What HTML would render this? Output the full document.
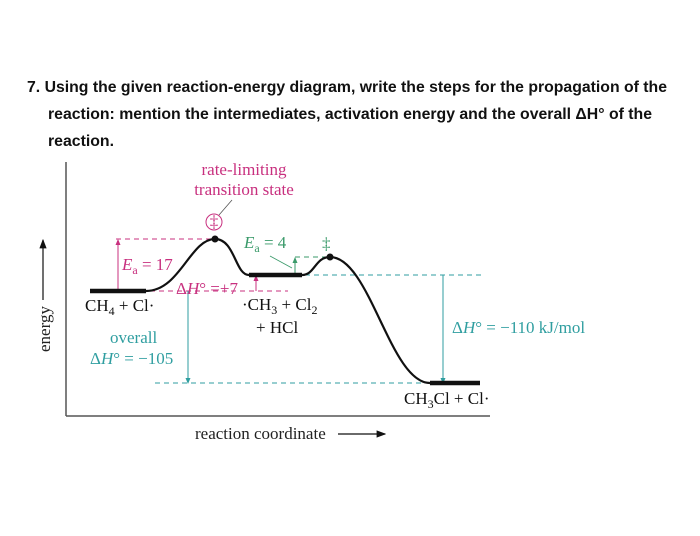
<!DOCTYPE html>
<html><head><meta charset="utf-8"><style>
html,body{margin:0;padding:0;background:#fff;}
svg{display:block;}
.q{font-family:"Liberation Sans",sans-serif;font-weight:bold;font-size:16px;fill:#111;}
.s{font-family:"Liberation Serif",serif;font-size:17px;}
</style></head><body>
<svg id="chart" width="700" height="536" viewBox="0 0 700 536" xmlns="http://www.w3.org/2000/svg">
<defs>
<marker id="ak" markerWidth="8" markerHeight="8" refX="7" refY="4" orient="auto"><path d="M0,1 L8,4 L0,7 Z" fill="#111"/></marker>
<marker id="am" markerWidth="6" markerHeight="6" refX="5" refY="3" orient="auto"><path d="M0,0.5 L6,3 L0,5.5 Z" fill="#c8307f"/></marker>
<marker id="at" markerWidth="6" markerHeight="6" refX="5" refY="3" orient="auto"><path d="M0,0.5 L6,3 L0,5.5 Z" fill="#2f9ea0"/></marker>
<marker id="ag" markerWidth="6" markerHeight="6" refX="5" refY="3" orient="auto"><path d="M0,0.5 L6,3 L0,5.5 Z" fill="#3a9a6a"/></marker>
</defs>
<g>
<text class="q" x="27" y="92" textLength="640" lengthAdjust="spacingAndGlyphs">7. Using the given reaction-energy diagram, write the steps for the propagation of the</text>
<text class="q" x="48" y="119" textLength="604" lengthAdjust="spacingAndGlyphs">reaction: mention the intermediates, activation energy and the overall ΔH° of the</text>
<text class="q" x="48" y="146" textLength="66" lengthAdjust="spacingAndGlyphs">reaction.</text>
</g>
<line x1="66" y1="162" x2="66" y2="416" stroke="#555" stroke-width="1.5"/>
<line x1="66" y1="416" x2="490" y2="416" stroke="#555" stroke-width="1.5"/>
<text class="s" transform="translate(50,352) rotate(-90)" fill="#222" font-size="16">energy</text>
<line x1="43" y1="300" x2="43" y2="240" stroke="#111" stroke-width="1.2" marker-end="url(#ak)"/>
<text class="s" x="195" y="439" fill="#222" font-size="16">reaction coordinate</text>
<line x1="338" y1="434" x2="385" y2="434" stroke="#111" stroke-width="1.2" marker-end="url(#ak)"/>
<g id="plot"></g>
<g>
<text class="s" x="244" y="175" text-anchor="middle" fill="#c8307f" font-size="16">rate-limiting</text>
<text class="s" x="244" y="195" text-anchor="middle" fill="#c8307f" font-size="16">transition state</text>
<line x1="232" y1="200" x2="219" y2="215" stroke="#555" stroke-width="0.8"/>
<circle cx="214" cy="222" r="8" fill="none" stroke="#c8307f" stroke-width="1"/>
<text class="s" x="214" y="227" text-anchor="middle" fill="#c8307f" font-size="12">‡</text>
<text class="s" x="122" y="270" fill="#c8307f"><tspan font-style="italic">E</tspan><tspan font-size="12" dy="4">a</tspan><tspan dy="-4"> = 17</tspan></text>
<text class="s" x="176" y="294" fill="#c8307f">Δ<tspan font-style="italic">H</tspan>° =+7</text>
<text class="s" x="244" y="248" fill="#3a9a6a"><tspan font-style="italic">E</tspan><tspan font-size="12" dy="4">a</tspan><tspan dy="-4"> = 4</tspan></text>
<line x1="270" y1="256" x2="292" y2="268" stroke="#3a9a6a" stroke-width="0.8"/>
<text class="s" x="322" y="249" fill="#3a9a6a" font-size="13">‡</text>
<text class="s" x="85" y="311" fill="#111">CH<tspan font-size="12" dy="4">4</tspan><tspan dy="-4"> + Cl·</tspan></text>
<text class="s" x="110" y="343" fill="#2f9ea0" font-size="16">overall</text>
<text class="s" x="90" y="364" fill="#2f9ea0" font-size="16">Δ<tspan font-style="italic">H</tspan>° = −105</text>
<text class="s" x="242" y="310" fill="#111">·CH<tspan font-size="12" dy="4">3</tspan><tspan dy="-4"> + Cl</tspan><tspan font-size="12" dy="4">2</tspan></text>
<text class="s" x="256" y="333" fill="#111">+ HCl</text>
<text class="s" x="452" y="333" fill="#2f9ea0" font-size="16">Δ<tspan font-style="italic">H</tspan>° = −110 kJ/mol</text>
<text class="s" x="404" y="404" fill="#111">CH<tspan font-size="12" dy="4">3</tspan><tspan dy="-4">Cl + Cl·</tspan></text>
</g>
</svg>
<script>
// energy values (kJ/mol) of each state along reaction coordinate
const states = ["reactants","ts1","intermediate","ts2","products"];
const energies = [0, 17, 7, 11, -105];
const stageX = [118, 215, 275, 330, 455]; // reaction coordinate centers (schematic)
// schematic energy axis
const eDom = [-105, 0, 7, 11, 17];
const eRng = [383, 291, 275, 257, 239];
function y(e){
  for(let i=0;i<eDom.length-1;i++){
    if(e<=eDom[i+1]||i===eDom.length-2){
      const t=(e-eDom[i])/(eDom[i+1]-eDom[i]);
      return eRng[i]+t*(eRng[i+1]-eRng[i]);
    }
  }
}
function x(i){return stageX[i];}
const NS="http://www.w3.org/2000/svg";
const g=document.getElementById('plot');
function mk(tag,attrs){const el=document.createElementNS(NS,tag);for(const k in attrs)el.setAttribute(k,attrs[k]);g.appendChild(el);return el;}
const y0=y(energies[0]),y1=y(energies[1]),y2=y(energies[2]),y3=y(energies[3]),y4=y(energies[4]);
const x0=x(0),x1=x(1),x2=x(2),x3=x(3),x4=x(4);
// dashed guides
let d;
d=mk('line',{x1:116,y1:y1,x2:x1,y2:y1,stroke:'#c8307f','stroke-dasharray':'5,4','stroke-width':1});

d=mk('line',{x1:x0+32,y1:y0,x2:288,y2:y0,stroke:'#c8307f','stroke-dasharray':'5,4','stroke-width':1});

d=mk('line',{x1:x2+30,y1:y2,x2:482,y2:y2,stroke:'#2f9ea0','stroke-dasharray':'5,4','stroke-width':1});

d=mk('line',{x1:155,y1:y4,x2:x4-25,y2:y4,stroke:'#2f9ea0','stroke-dasharray':'5,4','stroke-width':1});

d=mk('line',{x1:x3-35,y1:y3,x2:x3,y2:y3,stroke:'#3a9a6a','stroke-dasharray':'5,4','stroke-width':1});

// arrows
d=mk('line',{x1:118,y1:y0,x2:118,y2:y1+1,stroke:'#c8307f','stroke-width':1,'marker-end':'url(#am)'});

d=mk('line',{x1:256,y1:y0,x2:256,y2:y2+1,stroke:'#c8307f','stroke-width':1,'marker-end':'url(#am)'});

d=mk('line',{x1:295,y1:y2,x2:295,y2:y3+1,stroke:'#3a9a6a','stroke-width':1,'marker-end':'url(#ag)'});

d=mk('line',{x1:188,y1:y0,x2:188,y2:y4,stroke:'#2f9ea0','stroke-width':1,'marker-end':'url(#at)'});

d=mk('line',{x1:443,y1:y2,x2:443,y2:y4,stroke:'#2f9ea0','stroke-width':1,'marker-end':'url(#at)'});

// curve
const a0=x0+28, b2=x2-26, c2=x2+27, d4=x4-25;
const path=`M${a0},${y0} C${a0+34},${y0} ${x1-25},${y1} ${x1},${y1} C${x1+20},${y1} ${b2-14},${y2} ${b2},${y2} M${c2},${y2} C${c2+13},${y2} ${x3-15},${y3} ${x3},${y3} C${x3+40},${y3} ${d4-40},${y4} ${d4},${y4}`;
d=mk('path',{d:path,fill:'none',stroke:'#111','stroke-width':2.2});

// levels
const lvl=[[0,x0-28,a0],[2,b2,c2],[4,d4,x4+25]];
lvl.forEach(([i,xa,xb])=>{
  const el=mk('line',{x1:xa,y1:y(energies[i]),x2:xb,y2:y(energies[i]),stroke:'#111','stroke-width':4.5});
  
  
});
[1,3].forEach(i=>{
  const el=mk('circle',{cx:x(i),cy:y(energies[i]),r:3.5,fill:'#111'});
  
  
});
</script>
</body></html>
